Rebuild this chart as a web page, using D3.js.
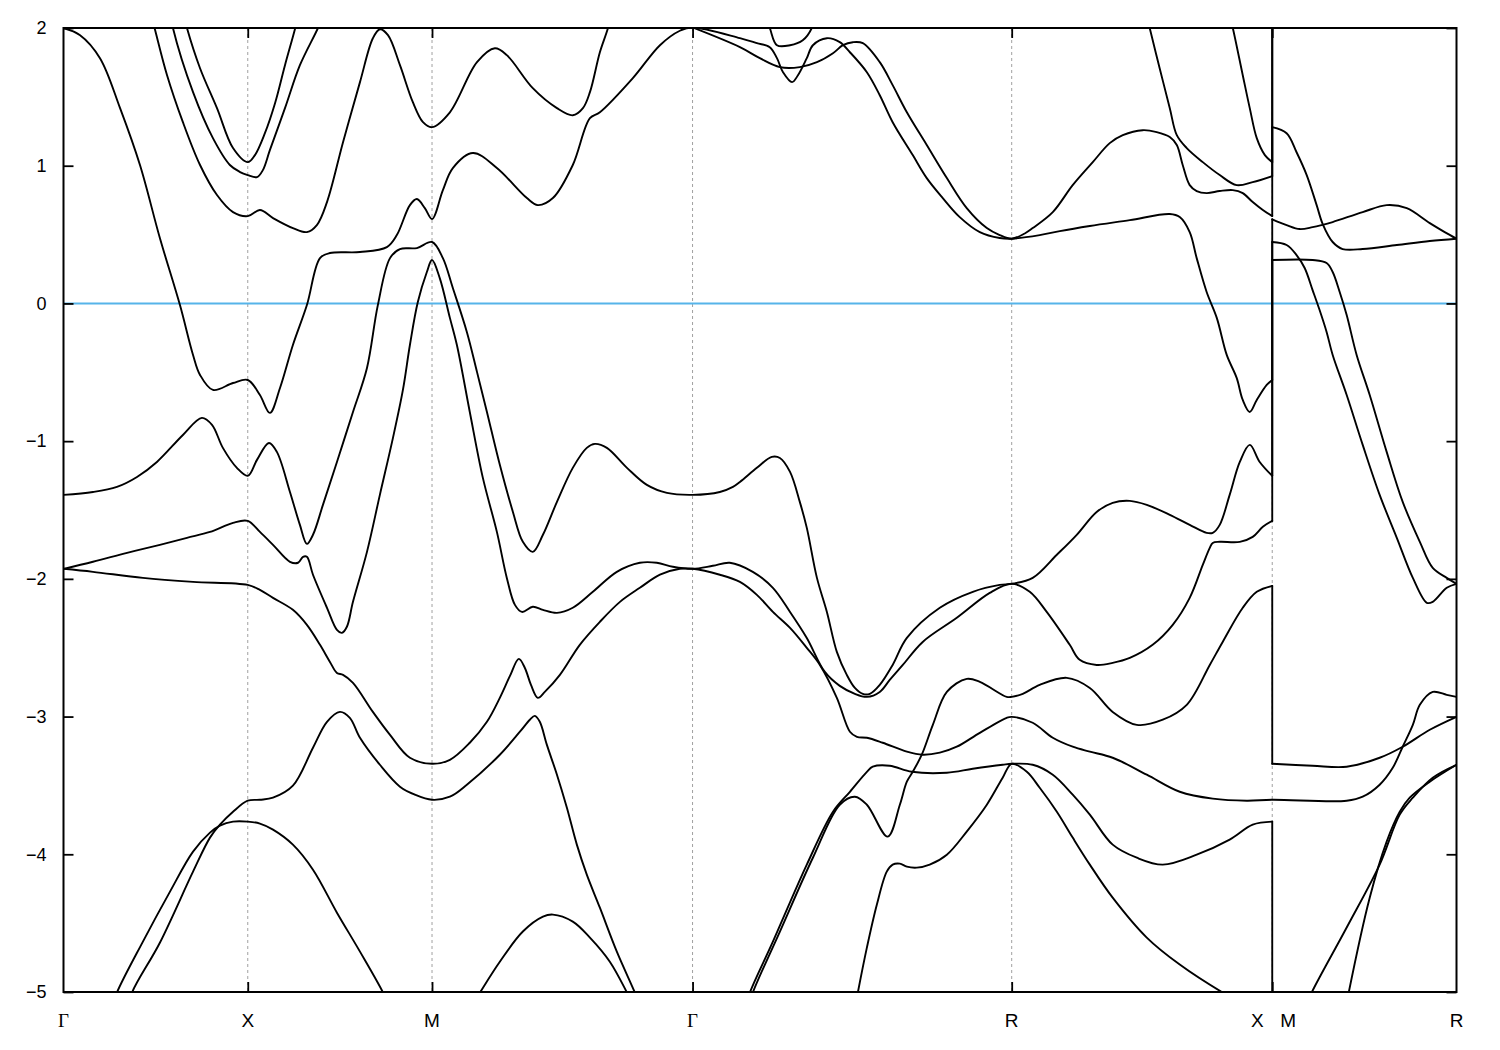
<!DOCTYPE html>
<html><head><meta charset="utf-8">
<script src="https://cdn.jsdelivr.net/npm/d3@7"></script>
<style>body{margin:0;background:#fff;} svg{display:block;}</style>
</head><body><svg id="c" width="1500" height="1050"></svg>
<script>
// k-path positions of high-symmetry points and their labels
const kTicks = [0, 1, 2, 3.414, 5.146, 6.560, 7.560];
const kTickLabels = ["Γ", "X", "M", "Γ", "R", "X|M", "R"];
const eTicks = [2, 1, 0, -1, -2, -3, -4, -5];
const fermiLevel = 0;

// bands: [k, E(eV)]
const band01 = [[0,2.0],[0.090,1.948],[0.198,1.781],[0.307,1.418],[0.415,1.005],[0.523,0.475],[0.632,-0.012],[0.703,-0.374],[0.741,-0.519],[0.811,-0.628],[0.920,-0.578],[1.0,-0.556],[1.066,-0.665],[1.120,-0.795],[1.175,-0.614],[1.245,-0.302],[1.321,-0.012],[1.392,0.329],[1.446,0.366],[1.609,0.373],[1.755,0.409],[1.809,0.496],[1.880,0.714],[1.918,0.758],[1.961,0.692],[2.0,0.613],[2.059,0.823],[2.113,0.983],[2.222,1.092],[2.352,0.983],[2.515,0.765],[2.574,0.714],[2.656,0.765],[2.764,1.005],[2.857,1.345],[2.911,1.388],[3.090,1.636],[3.237,1.875],[3.345,1.98],[3.414,2.004],[3.671,1.926],[3.763,1.890],[3.833,1.861],[3.872,1.781],[3.905,1.679],[3.954,1.607],[3.986,1.657],[4.034,1.781],[4.067,1.875],[4.143,1.926],[4.213,1.897],[4.268,1.824],[4.360,1.679],[4.430,1.512],[4.500,1.316],[4.609,1.077],[4.685,0.910],[4.772,0.765],[4.864,0.627],[4.973,0.518],[5.081,0.475],[5.146,0.47],[5.298,0.496],[5.407,0.525],[5.570,0.562],[5.787,0.605],[6.004,0.649],[6.058,0.627],[6.112,0.518],[6.150,0.329],[6.204,0.083],[6.259,-0.105],[6.313,-0.374],[6.367,-0.541],[6.400,-0.701],[6.438,-0.788],[6.476,-0.701],[6.530,-0.592],[6.560,-0.556],[6.560,0.611],[6.638,0.569],[6.709,0.540],[6.779,0.554],[6.828,0.569],[6.888,0.591],[7.051,0.663],[7.181,0.714],[7.290,0.692],[7.415,0.583],[7.496,0.518],[7.560,0.47]];
const band02 = [[0.469,2.13],[0.496,1.991],[0.562,1.657],[0.648,1.316],[0.741,1.005],[0.833,0.787],[0.920,0.663],[1.0,0.634],[1.066,0.678],[1.137,0.620],[1.245,0.547],[1.321,0.518],[1.375,0.569],[1.430,0.736],[1.517,1.171],[1.609,1.607],[1.679,1.926],[1.717,1.991],[1.761,1.948],[1.826,1.730],[1.896,1.461],[1.951,1.316],[2.0,1.280],[2.097,1.388],[2.244,1.752],[2.341,1.853],[2.406,1.803],[2.547,1.563],[2.678,1.418],[2.764,1.366],[2.819,1.418],[2.857,1.534],[2.911,1.824],[2.955,2.0],[2.982,2.15]];
const band03 = [[0.648,2.12],[0.670,2.0],[0.741,1.708],[0.833,1.418],[0.920,1.128],[1.0,1.026],[1.039,1.077],[1.093,1.236],[1.148,1.454],[1.202,1.730],[1.256,1.991],[1.278,2.11]];
const band04 = [[0.578,2.12],[0.594,2.0],[0.703,1.534],[0.811,1.200],[0.903,1.005],[0.958,0.954],[1.0,0.932],[1.050,0.917],[1.082,0.968],[1.120,1.113],[1.202,1.418],[1.283,1.730],[1.381,2.0],[1.408,2.09]];
const band05 = [[6.329,2.09],[6.346,2.0],[6.400,1.657],[6.438,1.418],[6.476,1.200],[6.520,1.077],[6.560,1.026],[6.560,2.3]];
const band06 = [[5.879,2.09],[5.895,2.0],[5.949,1.708],[6.004,1.418],[6.042,1.222],[6.096,1.128],[6.183,1.026],[6.275,0.932],[6.367,0.859],[6.454,0.881],[6.560,0.925],[6.560,2.3]];
const band07 = [[3.414,2.004],[3.671,1.861],[3.779,1.781],[3.888,1.716],[3.996,1.716],[4.089,1.752],[4.176,1.817],[4.230,1.875],[4.284,1.897],[4.338,1.890],[4.430,1.752],[4.500,1.585],[4.577,1.388],[4.685,1.150],[4.794,0.910],[4.902,0.692],[5.011,0.547],[5.081,0.496],[5.146,0.47],[5.217,0.508],[5.260,0.547],[5.369,0.663],[5.477,0.859],[5.586,1.026],[5.678,1.164],[5.749,1.222],[5.857,1.258],[5.933,1.244],[6.004,1.208],[6.042,1.150],[6.074,1.005],[6.112,0.859],[6.150,0.816],[6.204,0.801],[6.275,0.816],[6.346,0.823],[6.400,0.801],[6.454,0.736],[6.509,0.678],[6.560,0.634],[6.560,1.280],[6.638,1.236],[6.692,1.098],[6.747,0.932],[6.801,0.714],[6.834,0.576],[6.888,0.446],[6.942,0.395],[7.051,0.395],[7.236,0.424],[7.415,0.453],[7.560,0.47]];
const band08 = [[0,-1.39],[0.160,-1.369],[0.290,-1.332],[0.399,-1.260],[0.507,-1.151],[0.648,-0.955],[0.751,-0.831],[0.806,-0.882],[0.865,-1.049],[0.941,-1.194],[1.0,-1.252],[1.050,-1.136],[1.115,-1.013],[1.158,-1.078],[1.229,-1.369],[1.283,-1.608],[1.321,-1.746],[1.354,-1.680],[1.408,-1.463],[1.484,-1.151],[1.571,-0.788],[1.647,-0.469],[1.706,-0.012],[1.772,0.329],[1.826,0.395],[1.918,0.402],[2.0,0.446],[2.059,0.329],[2.113,0.112],[2.189,-0.207],[2.244,-0.497],[2.298,-0.788],[2.368,-1.172],[2.439,-1.514],[2.493,-1.731],[2.547,-1.804],[2.602,-1.680],[2.678,-1.441],[2.764,-1.194],[2.840,-1.049],[2.884,-1.020],[2.949,-1.049],[3.058,-1.194],[3.166,-1.318],[3.275,-1.376],[3.414,-1.39],[3.562,-1.369],[3.633,-1.332],[3.671,-1.296],[3.763,-1.194],[3.844,-1.114],[3.888,-1.122],[3.943,-1.223],[3.996,-1.441],[4.034,-1.630],[4.089,-1.993],[4.143,-2.240],[4.197,-2.530],[4.251,-2.697],[4.295,-2.792],[4.338,-2.835],[4.376,-2.835],[4.430,-2.770],[4.500,-2.625],[4.577,-2.429],[4.756,-2.210],[4.935,-2.094],[5.081,-2.044],[5.146,-2.036],[5.260,-1.993],[5.391,-1.825],[5.499,-1.680],[5.607,-1.514],[5.694,-1.448],[5.787,-1.434],[5.879,-1.463],[6.004,-1.535],[6.112,-1.608],[6.204,-1.666],[6.237,-1.666],[6.275,-1.608],[6.329,-1.390],[6.384,-1.151],[6.438,-1.027],[6.492,-1.151],[6.560,-1.252],[6.560,0.446],[6.638,0.424],[6.692,0.351],[6.736,0.257],[6.779,0.097],[6.817,-0.048],[6.855,-0.207],[6.888,-0.374],[6.964,-0.665],[7.051,-1.027],[7.143,-1.390],[7.236,-1.702],[7.323,-1.993],[7.399,-2.174],[7.431,-2.167],[7.507,-2.065],[7.560,-2.036]];
const band09 = [[0,-1.927],[0.160,-1.876],[0.345,-1.811],[0.523,-1.753],[0.670,-1.702],[0.795,-1.659],[0.920,-1.593],[1.0,-1.579],[1.066,-1.659],[1.137,-1.753],[1.229,-1.876],[1.273,-1.883],[1.300,-1.840],[1.321,-1.840],[1.354,-1.970],[1.430,-2.210],[1.484,-2.370],[1.511,-2.392],[1.538,-2.348],[1.571,-2.167],[1.647,-1.804],[1.717,-1.390],[1.788,-0.976],[1.842,-0.628],[1.880,-0.302],[1.923,0.010],[1.972,0.228],[2.0,0.315],[2.042,0.184],[2.097,-0.105],[2.135,-0.302],[2.205,-0.788],[2.276,-1.267],[2.352,-1.659],[2.406,-1.993],[2.450,-2.189],[2.488,-2.240],[2.547,-2.203],[2.602,-2.225],[2.678,-2.247],[2.764,-2.210],[2.873,-2.094],[3.003,-1.949],[3.128,-1.883],[3.220,-1.883],[3.307,-1.912],[3.414,-1.927],[3.524,-1.905],[3.616,-1.883],[3.741,-1.949],[3.850,-2.065],[3.943,-2.240],[4.034,-2.429],[4.132,-2.676],[4.213,-2.777],[4.295,-2.835],[4.360,-2.857],[4.430,-2.821],[4.484,-2.734],[4.555,-2.625],[4.663,-2.458],[4.848,-2.283],[5.027,-2.102],[5.146,-2.036],[5.244,-2.094],[5.336,-2.240],[5.461,-2.479],[5.515,-2.588],[5.607,-2.625],[5.694,-2.610],[5.787,-2.574],[5.911,-2.479],[6.020,-2.334],[6.112,-2.138],[6.183,-1.898],[6.221,-1.775],[6.237,-1.739],[6.275,-1.731],[6.384,-1.731],[6.454,-1.695],[6.509,-1.622],[6.560,-1.579],[6.560,0.315],[6.779,0.315],[6.855,0.293],[6.888,0.228],[6.926,0.083],[6.964,-0.084],[7.018,-0.374],[7.089,-0.665],[7.181,-1.078],[7.268,-1.441],[7.361,-1.731],[7.431,-1.920],[7.507,-1.993],[7.560,-2.036]];
const band10 = [[0,-1.927],[0.160,-1.949],[0.431,-1.993],[0.703,-2.022],[1.0,-2.044],[1.066,-2.080],[1.137,-2.138],[1.245,-2.225],[1.321,-2.334],[1.392,-2.479],[1.446,-2.603],[1.484,-2.683],[1.517,-2.697],[1.571,-2.755],[1.679,-2.966],[1.772,-3.133],[1.880,-3.299],[2.0,-3.343],[2.097,-3.314],[2.205,-3.190],[2.298,-3.038],[2.368,-2.864],[2.423,-2.705],[2.471,-2.581],[2.504,-2.647],[2.537,-2.770],[2.574,-2.864],[2.612,-2.821],[2.694,-2.697],[2.802,-2.479],[2.911,-2.312],[3.020,-2.167],[3.128,-2.065],[3.237,-1.970],[3.345,-1.927],[3.414,-1.927],[3.562,-1.970],[3.671,-2.022],[3.763,-2.116],[3.850,-2.240],[3.943,-2.356],[4.034,-2.501],[4.105,-2.625],[4.197,-2.864],[4.268,-3.110],[4.306,-3.147],[4.360,-3.154],[4.446,-3.190],[4.577,-3.255],[4.663,-3.277],[4.756,-3.262],[4.848,-3.219],[4.973,-3.118],[5.119,-3.009],[5.146,-3.002],[5.260,-3.045],[5.369,-3.154],[5.477,-3.219],[5.570,-3.255],[5.694,-3.299],[5.879,-3.422],[6.058,-3.546],[6.237,-3.596],[6.422,-3.611],[6.560,-3.604],[6.964,-3.611],[7.051,-3.582],[7.143,-3.495],[7.214,-3.372],[7.268,-3.219],[7.323,-3.060],[7.361,-2.915],[7.431,-2.821],[7.507,-2.842],[7.560,-2.857]];
const band11 = [[0.350,-5.12],[0.372,-5.004],[0.523,-4.642],[0.703,-4.126],[0.795,-3.879],[0.849,-3.785],[0.920,-3.691],[1.0,-3.611],[1.066,-3.604],[1.137,-3.589],[1.245,-3.502],[1.354,-3.226],[1.430,-3.038],[1.500,-2.966],[1.554,-3.009],[1.609,-3.154],[1.717,-3.350],[1.826,-3.509],[1.907,-3.567],[2.0,-3.604],[2.097,-3.582],[2.189,-3.495],[2.368,-3.277],[2.477,-3.110],[2.531,-3.023],[2.558,-2.995],[2.585,-3.038],[2.623,-3.204],[2.678,-3.422],[2.732,-3.662],[2.786,-3.930],[2.840,-4.148],[2.911,-4.388],[3.003,-4.707],[3.101,-5.004],[3.139,-5.13]];
const band12 = [[0.258,-5.13],[0.290,-5.004],[0.431,-4.634],[0.578,-4.271],[0.703,-3.981],[0.795,-3.843],[0.849,-3.792],[0.920,-3.763],[1.0,-3.763],[1.066,-3.777],[1.137,-3.821],[1.245,-3.930],[1.354,-4.112],[1.484,-4.424],[1.609,-4.707],[1.734,-5.004],[1.772,-5.12]];
const band13 = [[2.206,-5.12],[2.260,-5.004],[2.368,-4.780],[2.493,-4.561],[2.602,-4.453],[2.656,-4.438],[2.764,-4.489],[2.857,-4.605],[2.965,-4.780],[3.058,-5.004],[3.101,-5.12]];
const band14 = [[3.714,-5.12],[3.741,-5.004],[3.888,-4.561],[4.067,-4.025],[4.213,-3.640],[4.295,-3.582],[4.360,-3.640],[4.473,-3.872],[4.539,-3.640],[4.577,-3.473],[4.609,-3.401],[4.658,-3.277],[4.718,-3.060],[4.794,-2.821],[4.902,-2.726],[4.973,-2.748],[5.119,-2.857],[5.146,-2.857],[5.206,-2.835],[5.298,-2.770],[5.445,-2.719],[5.570,-2.792],[5.694,-2.966],[5.825,-3.060],[5.966,-3.023],[6.096,-2.915],[6.221,-2.625],[6.291,-2.458],[6.400,-2.210],[6.476,-2.094],[6.560,-2.051],[6.560,-3.343],[6.779,-3.357],[6.964,-3.364],[7.143,-3.299],[7.268,-3.219],[7.415,-3.096],[7.560,-3.002]];
const band15 = [[3.698,-5.12],[3.725,-5.004],[3.850,-4.634],[4.034,-4.075],[4.176,-3.691],[4.268,-3.546],[4.360,-3.401],[4.392,-3.364],[4.484,-3.357],[4.604,-3.401],[4.794,-3.408],[4.935,-3.379],[5.097,-3.350],[5.146,-3.343],[5.260,-3.350],[5.369,-3.422],[5.477,-3.567],[5.570,-3.712],[5.694,-3.930],[5.825,-4.025],[5.966,-4.075],[6.150,-4.003],[6.329,-3.894],[6.454,-3.785],[6.560,-3.763],[6.560,-5.3]];
const band16 = [[4.295,-5.12],[4.311,-5.004],[4.360,-4.678],[4.414,-4.366],[4.468,-4.126],[4.500,-4.075],[4.539,-4.068],[4.577,-4.090],[4.631,-4.097],[4.701,-4.075],[4.794,-4.003],[4.902,-3.835],[5.011,-3.640],[5.097,-3.444],[5.146,-3.343],[5.228,-3.401],[5.298,-3.517],[5.391,-3.691],[5.477,-3.879],[5.570,-4.075],[5.694,-4.315],[5.879,-4.605],[6.058,-4.801],[6.291,-5.004],[6.438,-5.11]];
const band17 = [[6.736,-5.12],[6.774,-5.004],[6.964,-4.532],[7.143,-4.075],[7.252,-3.712],[7.323,-3.589],[7.431,-3.444],[7.560,-3.350]];
const band18 = [[6.959,-5.12],[6.975,-5.004],[7.089,-4.315],[7.181,-3.908],[7.252,-3.691],[7.306,-3.589],[7.415,-3.473],[7.560,-3.350]];
const band19 = [[3.806,2.09],[3.833,2.0],[3.872,1.875],[3.943,1.875],[4.012,1.911],[4.061,2.0],[4.077,2.09]];

const bands = [band01,band02,band03,band04,band05,band06,band07,band08,band09,band10,band11,band12,band13,band14,band15,band16,band17,band18,band19];

const svg = d3.select("#c");
const L = 63.5, R = 1456.5, T = 28, B = 992;
const x = d3.scaleLinear().domain([kTicks[0], kTicks[kTicks.length-1]]).range([L, R]);
const y = d3.scaleLinear().domain([-5, 2]).range([B, T]);
const font = "'Liberation Sans', Arial, Helvetica, sans-serif";

svg.append("rect").attr("width",1500).attr("height",1050).attr("fill","#fff");
svg.append("defs").append("clipPath").attr("id","clip")
  .append("rect").attr("x",L).attr("y",T).attr("width",R-L).attr("height",B-T);

// dashed vertical grid at inner high-symmetry points
svg.append("g").selectAll("line").data(kTicks.slice(1,-1)).join("line")
  .attr("x1",d=>x(d)).attr("x2",d=>x(d)).attr("y1",T).attr("y2",B)
  .attr("stroke","#a0a0a0").attr("stroke-width",1).attr("stroke-dasharray","3,3");

// Fermi level
svg.append("line").attr("x1",L).attr("x2",R).attr("y1",y(fermiLevel)).attr("y2",y(fermiLevel))
  .attr("stroke","#56b4e9").attr("stroke-width",2);

// bands
function pieces(band){
  const out=[]; let cur=[band[0]];
  for(let i=1;i<band.length;i++){
    const p=band[i], q=band[i-1];
    if(p[0]===q[0]){ out.push(cur); out.push([q,p]); cur=[p]; }
    else cur.push(p);
  }
  out.push(cur); return out;
}
const line = d3.line().x(d=>x(d[0])).y(d=>y(d[1])).curve(d3.curveCatmullRom.alpha(0.5));
const g = svg.append("g").attr("clip-path","url(#clip)");
bands.forEach(b=>{
  pieces(b).forEach(p=>{
    if(p.length<2) return;
    g.append("path").attr("d",line(p)).attr("fill","none").attr("stroke","#000")
      .attr("stroke-width",1.9).attr("stroke-linejoin","round").attr("stroke-linecap","round");
  });
});

// frame
svg.append("rect").attr("x",L).attr("y",T).attr("width",R-L).attr("height",B-T)
  .attr("fill","none").attr("stroke","#000").attr("stroke-width",2);

// axes (inward ticks)
function styleAxis(sel){
  sel.select(".domain").remove();
  sel.selectAll(".tick line").attr("stroke","#000").attr("stroke-width",1.8);
  sel.selectAll(".tick text").attr("fill","#000").attr("font-family",font).attr("font-size",18);
}
svg.append("g").attr("transform",`translate(${L},0)`)
  .call(d3.axisLeft(y).tickValues(eTicks).tickSize(-10).tickPadding(17).tickFormat(d3.format("d")))
  .call(styleAxis);
svg.append("g").attr("transform",`translate(${R},0)`)
  .call(d3.axisRight(y).tickValues(eTicks).tickSize(-10).tickFormat(""))
  .call(styleAxis);
svg.append("g").attr("transform",`translate(0,${B})`)
  .call(d3.axisBottom(x).tickValues(kTicks.slice(1,-1)).tickSize(-10).tickFormat(""))
  .call(styleAxis);
svg.append("g").attr("transform",`translate(0,${T})`)
  .call(d3.axisTop(x).tickValues(kTicks.slice(1,-1)).tickSize(-10).tickFormat(""))
  .call(styleAxis);

// k-point labels
const lab = svg.append("g");
kTicks.forEach((k,i)=>{
  const parts = kTickLabels[i].split("|");
  const offs = parts.length===2 ? [-15,16] : [0];
  parts.forEach((t,j)=>{
    lab.append("text").attr("x",x(k)+offs[j]).attr("y",1027)
      .attr("text-anchor","middle")
      .attr("font-family", t==="Γ" ? "'Liberation Serif', 'DejaVu Serif', serif" : font)
      .attr("font-size",19).attr("fill","#000").text(t);
  });
});
</script>
</body></html>
